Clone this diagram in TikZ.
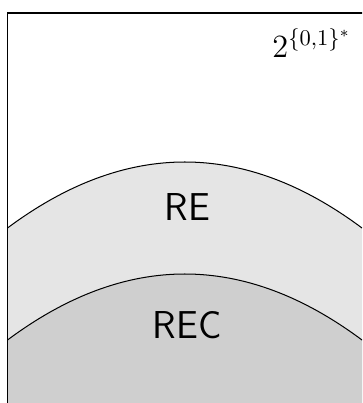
\documentclass[tikz,border=0pt]{standalone}
\begin{document}
\begin{tikzpicture}[x=0.4444pt,y=-0.4444pt,
  curve/.style={line width=0.45pt,black},
  frame/.style={line width=0.7pt,black},
  setlabel/.style={anchor=base,font=\sffamily\LARGE,inner sep=0pt}]
\useasboundingbox (0,0) rectangle (362,403);
\clip (0,0) rectangle (362,403);
% RE region
\fill[black!10] (7.5,228) .. controls (125.67,140) and (243.83,140) .. (362,228) -- cycle;
\fill[black!10] (7.5,228) rectangle (370,410);
% REC region
\fill[black!19] (7.5,340) .. controls (125.67,252) and (243.83,252) .. (362,340) -- cycle;
\fill[black!19] (7.5,340) rectangle (370,410);
% boundaries
\draw[curve] (7.5,228) .. controls (125.67,140) and (243.83,140) .. (362,228);
\draw[curve] (7.5,340) .. controls (125.67,252) and (243.83,252) .. (362,340);
% frame
\draw[frame] (370,12.8) -- (7.5,12.8) -- (7.5,410);
% labels
\node[setlabel] (re) at (187.5,221) {RE};
\node[setlabel] (rec) at (187,338.5) {REC};
\node[anchor=base west,inner sep=0pt,font=\Large] (all) at (272,57.3) {$2^{\{0,1\}^*}$};
\end{tikzpicture}
\end{document}
